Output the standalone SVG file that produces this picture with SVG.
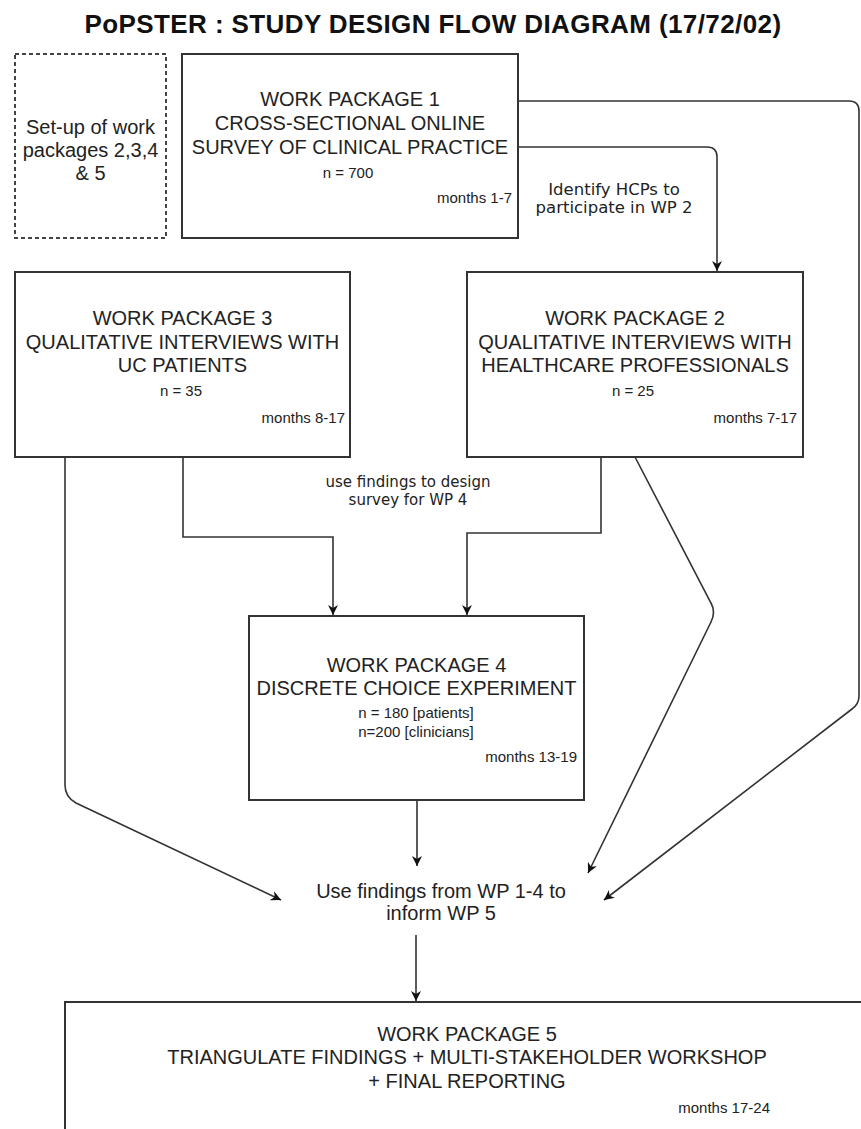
<svg xmlns="http://www.w3.org/2000/svg" width="861" height="1129" viewBox="0 0 861 1129">
<style>
.box{fill:#fff;stroke:#333;stroke-width:2}
.dash{fill:#fff;stroke:#444;stroke-width:2;stroke-dasharray:4 3}
.t{font-family:"Liberation Sans",Arial,sans-serif;font-size:20px;fill:#222;text-anchor:middle}
.s{font-family:"Liberation Sans",Arial,sans-serif;font-size:15px;fill:#222;text-anchor:middle}
.m{font-family:"Liberation Sans",Arial,sans-serif;font-size:15px;fill:#222;text-anchor:end}
.lbl{font-family:"DejaVu Sans",Verdana,sans-serif;fill:#222;text-anchor:middle}
.c{fill:none;stroke:#333;stroke-width:1.6}
.title{font-family:"Liberation Sans",Arial,sans-serif;font-size:26px;font-weight:bold;fill:#111;text-anchor:middle;letter-spacing:0.4px}
</style>
<defs>
<marker id="arr" viewBox="0 0 10 10" refX="10" refY="5" markerWidth="11" markerHeight="10" markerUnits="userSpaceOnUse" orient="auto">
<path d="M0,0 L10,5 L0,10 L3,5 z" fill="#111"/>
</marker>
</defs>
<rect width="861" height="1129" fill="#fff"/>
<text class="title" x="433" y="33">PoPSTER : STUDY DESIGN FLOW DIAGRAM (17/72/02)</text>

<g id="connectors">
<path class="c" d="M518,101 H849 Q859,101 859,111 V696 Q859,704 852,709 L604,900" marker-end="url(#arr)"/>
<path class="c" d="M518,147 H707 Q717,147 717,157 V271" marker-end="url(#arr)"/>
<path class="c" d="M65,457 V785 Q65,797 76,803 L281,900" marker-end="url(#arr)"/>
<path class="c" d="M183,457 V537 H333 V615" marker-end="url(#arr)"/>
<path class="c" d="M601,457 V533 H467 V615" marker-end="url(#arr)"/>
<path class="c" d="M635,457 L711,603 Q716,612 711,622 L588,873" marker-end="url(#arr)"/>
<path class="c" d="M417,800 V866" marker-end="url(#arr)"/>
<path class="c" d="M416,935 V1001" marker-end="url(#arr)"/>
</g>

<g id="setup">
<rect class="dash" x="15" y="54" width="151" height="184"/>
<text class="t" x="90.5" y="134">Set-up of work</text>
<text class="t" x="90.5" y="157">packages 2,3,4</text>
<text class="t" x="90.5" y="180">&amp; 5</text>
</g>

<g id="wp1">
<rect class="box" x="182" y="54" width="336" height="184"/>
<text class="t" x="350" y="106">WORK PACKAGE 1</text>
<text class="t" x="350" y="130">CROSS-SECTIONAL ONLINE</text>
<text class="t" x="350" y="154">SURVEY OF CLINICAL PRACTICE</text>
<text class="s" x="348" y="178">n = 700</text>
<text class="m" x="512" y="203">months 1-7</text>
</g>

<g id="label-hcp">
<text class="lbl" font-size="16.5" x="614" y="195">Identify HCPs to</text>
<text class="lbl" font-size="16.5" x="614" y="213">participate in WP 2</text>
</g>

<g id="wp3">
<rect class="box" x="15" y="272" width="335" height="185"/>
<text class="t" x="182.5" y="325">WORK PACKAGE 3</text>
<text class="t" x="182.5" y="349">QUALITATIVE INTERVIEWS WITH</text>
<text class="t" x="182.5" y="372">UC PATIENTS</text>
<text class="s" x="181" y="396">n = 35</text>
<text class="m" x="345" y="423">months 8-17</text>
</g>

<g id="wp2">
<rect class="box" x="467" y="272" width="336" height="185"/>
<text class="t" x="635" y="325">WORK PACKAGE 2</text>
<text class="t" x="635" y="349">QUALITATIVE INTERVIEWS WITH</text>
<text class="t" x="635" y="372">HEALTHCARE PROFESSIONALS</text>
<text class="s" x="633" y="396">n = 25</text>
<text class="m" x="797" y="423">months 7-17</text>
</g>

<g id="label-design">
<text class="lbl" font-size="15" x="408" y="487">use findings to design</text>
<text class="lbl" font-size="15" x="408" y="505">survey for WP 4</text>
</g>

<g id="wp4">
<rect class="box" x="249" y="616" width="335" height="184"/>
<text class="t" x="416.5" y="672">WORK PACKAGE 4</text>
<text class="t" x="416.5" y="695">DISCRETE CHOICE EXPERIMENT</text>
<text class="s" x="416" y="718">n = 180 [patients]</text>
<text class="s" x="416" y="737">n=200 [clinicians]</text>
<text class="m" x="577" y="762">months 13-19</text>
</g>

<g id="inform">
<text class="t" x="441" y="898">Use findings from WP 1-4 to</text>
<text class="t" x="441" y="920">inform WP 5</text>
</g>

<g id="wp5">
<rect class="box" x="65" y="1002" width="802" height="200"/>
<text class="t" x="467" y="1041">WORK PACKAGE 5</text>
<text class="t" x="467" y="1064">TRIANGULATE FINDINGS + MULTI-STAKEHOLDER WORKSHOP</text>
<text class="t" x="467" y="1088">+ FINAL REPORTING</text>
<text class="m" x="770" y="1113">months 17-24</text>
</g>
</svg>
